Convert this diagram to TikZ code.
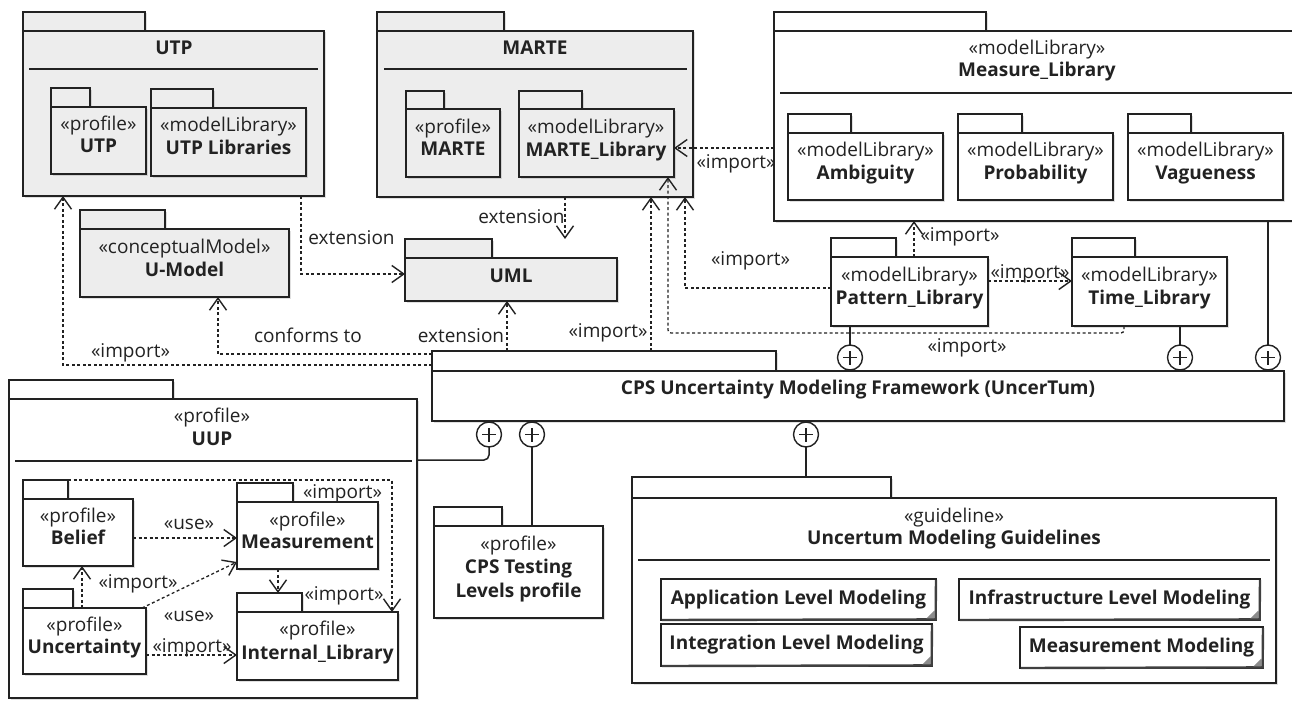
\documentclass[tikz,border=0pt]{standalone}
\usepackage{fontspec}
\setmainfont{Open Sans}
\usetikzlibrary{arrows.meta,shadows}
\definecolor{ink}{HTML}{222222}
\definecolor{pkggray}{HTML}{EDEDED}
\definecolor{cornergray}{HTML}{8C8C8C}

% package = tab node (#1t) + body node (#1)
% #1 name, #2 fill, #3 #4 body top-left, #5 #6 body bottom-right, #7 tab right, #8 tab top
\newcommand\umlpkg[8]{%
  \node[pkgpart,fill=#2,anchor=north west,minimum width={#7-#3},minimum height={#4-#8}] (#1t) at (#3,#8) {};
  \node[pkgpart,fill=#2,anchor=north west,minimum width={#5-#3},minimum height={#6-#4}] (#1) at (#3,#4) {};
}

\begin{document}
\begin{tikzpicture}[x=1pt,y=-1pt,
  pkgpart/.style={rectangle,draw=ink,line width=1.5pt,inner sep=0pt,outer sep=0pt,
    drop shadow={shadow xshift=1.5pt,shadow yshift=-1.5pt,fill=black,opacity=0.12}},
  sep/.style={draw=ink,line width=1.3pt},
  st/.style={anchor=base,inner sep=0pt,text=ink,font=\fontsize{19}{23}\selectfont},
  nm/.style={anchor=base,inner sep=0pt,text=ink,font=\fontsize{19}{23}\selectfont\bfseries},
  lbl/.style={anchor=base,inner sep=0pt,text=ink,font=\fontsize{19}{23}\selectfont},
  dep/.style={draw=ink,line width=1.3pt,dash pattern=on 3pt off 2.5pt,
    -{Straight Barb[length=12pt,width=17pt,line width=1.4pt]}},
  link/.style={draw=ink,line width=1.5pt},
  own/.style={circle,draw=ink,fill=white,line width=1.4pt,minimum size=25pt,inner sep=0pt,outer sep=0pt},
  gbox/.style={rectangle,draw=ink,fill=white,line width=1.3pt,inner sep=0pt,outer sep=0pt,anchor=north west,
    font=\fontsize{19}{23}\selectfont\bfseries,text=ink},
]
\useasboundingbox (0,0) rectangle (1292,701);
\fill[white] (0,0) rectangle (1292,701);

% ---------------- UTP ----------------
\umlpkg{utp}{pkggray}{23}{31}{324}{196}{145}{12}
\node[nm] (utpN) at (174,54.5) {UTP};
\draw[sep] (29,69) -- (318,69);
\umlpkg{utpp}{pkggray}{51}{107}{146}{174}{90}{88}
\node[st] (utppS) at (98.5,130.5) {«profile»};
\node[nm] (utppN) at (98.5,152.5) {UTP};
\umlpkg{utpl}{pkggray}{151}{108}{306}{176}{213}{89}
\node[st] (utplS) at (228.5,131.5) {«modelLibrary»};
\node[nm] (utplN) at (228.5,154.5) {UTP Libraries};

% ---------------- MARTE ----------------
\umlpkg{marte}{pkggray}{377}{31}{693}{197}{504}{12}
\node[nm] (marteN) at (535,54.5) {MARTE};
\draw[sep] (384,69) -- (687,69);
\umlpkg{martep}{pkggray}{406}{109}{500}{177}{444}{91}
\node[st] (martepS) at (453,133.5) {«profile»};
\node[nm] (martepN) at (453,155.5) {MARTE};
\umlpkg{martel}{pkggray}{519}{109}{674}{177}{582}{91}
\node[st] (martelS) at (596,133.5) {«modelLibrary»};
\node[nm] (martelN) at (596,156.5) {MARTE\_Library};

% ---------------- Measure_Library ----------------
\umlpkg{meas}{white}{774}{31}{1300}{221}{986}{12}
\node[st] (measS) at (1037,54.5) {«modelLibrary»};
\node[nm] (measN) at (1037,76.5) {Measure\_Library};
\draw[sep] (780,93) -- (1300,93);
\umlpkg{amb}{white}{788}{133}{943}{200}{851}{114}
\node[st] (ambS) at (865.5,156.5) {«modelLibrary»};
\node[nm] (ambN) at (865.5,179.5) {Ambiguity};
\umlpkg{prob}{white}{958}{133}{1113}{200}{1022}{114}
\node[st] (probS) at (1035.5,156.5) {«modelLibrary»};
\node[nm] (probN) at (1035.5,179.5) {Probability};
\umlpkg{vag}{white}{1128}{133}{1283}{200}{1191}{114}
\node[st] (vagS) at (1205.5,156.5) {«modelLibrary»};
\node[nm] (vagN) at (1205.5,179.5) {Vagueness};

% ---------------- U-Model, UML ----------------
\umlpkg{umod}{pkggray}{80}{229}{289}{297}{165}{210}
\node[st] (umodS) at (184.5,253.5) {«conceptualModel»};
\node[nm] (umodN) at (184.5,276.5) {U-Model};
\umlpkg{uml}{pkggray}{405}{258}{617}{301}{492}{239}
\node[nm] (umlN) at (511,282.5) {UML};

% ---------------- Pattern / Time libraries ----------------
\umlpkg{pat}{white}{831}{257}{988}{326}{896}{238}
\node[st] (patS) at (909.5,281.5) {«modelLibrary»};
\node[nm] (patN) at (909.5,304.5) {Pattern\_Library};
\umlpkg{time}{white}{1072}{257}{1227}{326}{1135}{238}
\node[st] (timeS) at (1149.5,281.5) {«modelLibrary»};
\node[nm] (timeN) at (1149.5,304.5) {Time\_Library};

% ---------------- framework ----------------
\umlpkg{cps}{white}{432}{371}{1284}{421}{776}{351}
\node[nm] (cpsN) at (858,394) {CPS Uncertainty Modeling Framework (UncerTum)};

% ---------------- UUP ----------------
\umlpkg{uup}{white}{9}{399}{417}{698}{173}{380}
\node[st] (uupS) at (212,422.5) {«profile»};
\node[nm] (uupN) at (212,445.5) {UUP};
\draw[sep] (15,461) -- (412,461);
\umlpkg{bel}{white}{23}{499}{133}{566}{68}{480}
\node[st] (belS) at (78,522.5) {«profile»};
\node[nm] (belN) at (78,544.5) {Belief};
\umlpkg{msr}{white}{237}{502}{378}{569}{293}{483}
\node[st] (msrS) at (307.5,526.5) {«profile»};
\node[nm] (msrN) at (307.5,548.5) {Measurement};
\umlpkg{unc}{white}{23}{608}{146}{674}{73}{589}
\node[st] (uncS) at (84.5,631.5) {«profile»};
\node[nm] (uncN) at (84.5,653.5) {Uncertainty};
\umlpkg{intl}{white}{237}{612}{398}{680}{302}{593}
\node[st] (intlS) at (317.5,635.5) {«profile»};
\node[nm] (intlN) at (317.5,659.5) {Internal\_Library};

% ---------------- CPS testing levels ----------------
\umlpkg{ctl}{white}{434}{526}{603}{618}{502}{507}
\node[st] (ctlS) at (518.5,550.5) {«profile»};
\node[nm] (ctlN1) at (518.5,573.5) {CPS Testing};
\node[nm] (ctlN2) at (518.5,597.5) {Levels profile};

% ---------------- guidelines ----------------
\umlpkg{gdl}{white}{632}{498}{1276}{683}{891}{477}
\node[st] (gdlS) at (954,522.5) {«guideline»};
\node[nm] (gdlN) at (954,544.5) {Uncertum Modeling Guidelines};
\draw[sep] (638,560) -- (1270,560);
\node[gbox,minimum width=275,minimum height=41] (g1) at (661,579) {Application Level Modeling};
\node[gbox,minimum width=301,minimum height=41] (g2) at (959,579) {Infrastructure Level Modeling};
\node[gbox,minimum width=271,minimum height=42] (g3) at (661,624) {Integration Level Modeling};
\node[gbox,minimum width=243,minimum height=41] (g4) at (1020,627) {Measurement Modeling};
\foreach \g in {g1,g2,g3,g4}{
  \draw[draw=black!75,line width=2.4pt] ([xshift=1pt]\g.south west) -- ([xshift=-0.4pt,yshift=0.6pt]\g.south east) -- ([yshift=-1pt]\g.north east);
  \fill[cornergray] ([shift={(-1.6pt,1.6pt)}]\g.south east) -- ++(0,-8) -- ++(-8,8) -- cycle;
}

% ---------------- ownership (nesting) links ----------------
\node[own] (c1) at (850,357.5) {};
\node[own] (c2) at (1180,357.5) {};
\node[own] (c3) at (1268,357.5) {};
\node[own] (c4) at (489,434.5) {};
\node[own] (c5) at (532,434.5) {};
\node[own] (c6) at (806,434.5) {};
\foreach \c in {c1,c2,c3,c4,c5,c6}{
  \draw[ink,line width=1.3pt] ([xshift=-7pt]\c.center) -- ([xshift=7pt]\c.center);
  \draw[ink,line width=1.3pt] ([yshift=-7pt]\c.center) -- ([yshift=7pt]\c.center);
}
\draw[link] (c1.north) -- (c1.north |- pat.south);
\draw[link] (c2.north) -- (c2.north |- time.south);
\draw[link] (c3.north) -- (c3.north |- meas.south);
\draw[link,rounded corners=5pt] (c4.south) |- (uup.east |- 0,460);
\draw[link] (c5.south) -- (c5.south |- ctl.north);
\draw[link] (c6.south) -- (c6.south |- gdlt.north);

% ---------------- dependencies ----------------
\draw[dep] (301,0 |- utp.south) |- (uml.west |- 0,274);
\node[lbl] (e1) at (351.5,244.5) {extension};
\draw[dep] (565,0 |- marte.south) -- (565,0 |- umlt.north);
\node[lbl] (e2) at (521.5,223.5) {extension};
\draw[dep] (507,0 |- cpst.north) -- (507,0 |- uml.south);
\node[lbl] (e3) at (461,342.5) {extension};
\draw[dep] (cpst.west |- 0,354) -| (218,0 |- umod.south);
\node[lbl] (cf) at (308,342.5) {conforms to};
\draw[dep] (cpst.west |- 0,365) -| (63,0 |- utp.south);
\node[lbl] (i1) at (130.5,357.5) {«import»};
\draw[dep] (651,0 |- cpst.north) -- (651,0 |- marte.south);
\node[lbl] (i2) at (608,337.5) {«import»};
\draw[dep,rounded corners=3pt] (1124,0 |- time.south) -- ++(0,7) -| (668,0 |- martel.south);
\node[lbl] (i3) at (967,352.5) {«import»};
\draw[dep] (pat.west |- 0,288) -| (685,0 |- marte.south);
\node[lbl] (i4) at (750.5,265.5) {«import»};
\draw[dep] (meas.west |- 0,148) -- (martel.east |- 0,148);
\node[lbl] (i5) at (736,168.5) {«import»};
\draw[dep] (914,0 |- pat.north) -- (914,0 |- meas.south);
\node[lbl] (i6) at (960,241.5) {«import»};
\draw[dep] (pat.east |- 0,281) -- (time.west |- 0,281);
\node[lbl] (i7) at (1030,278.5) {«import»};

% inside UUP
\draw[dep] (bel.east |- 0,538) -- (msr.west |- 0,538);
\node[lbl] (u1) at (189,529.5) {«use»};
\draw[dep] (82,0 |- unc.north) -- (82,0 |- bel.south);
\draw[dep] (142,0 |- unc.north) -- (msr.west |- 0,562);
\node[lbl] (u2) at (138,588.5) {«import»};
\node[lbl] (u3) at (189,621.5) {«use»};
\draw[dep] (unc.east |- 0,655) -- (intl.west |- 0,655);
\node[lbl] (u4) at (192,652.5) {«import»};
\draw[dep] (278,0 |- msr.south) -- (278,0 |- intlt.north);
\node[lbl] (u5) at (344,600.5) {«import»};
\draw[dep] (belt.north east) -| (392,0 |- intl.north);
\node[lbl] (u6) at (342.5,498.5) {«import»};
\end{tikzpicture}
\end{document}
